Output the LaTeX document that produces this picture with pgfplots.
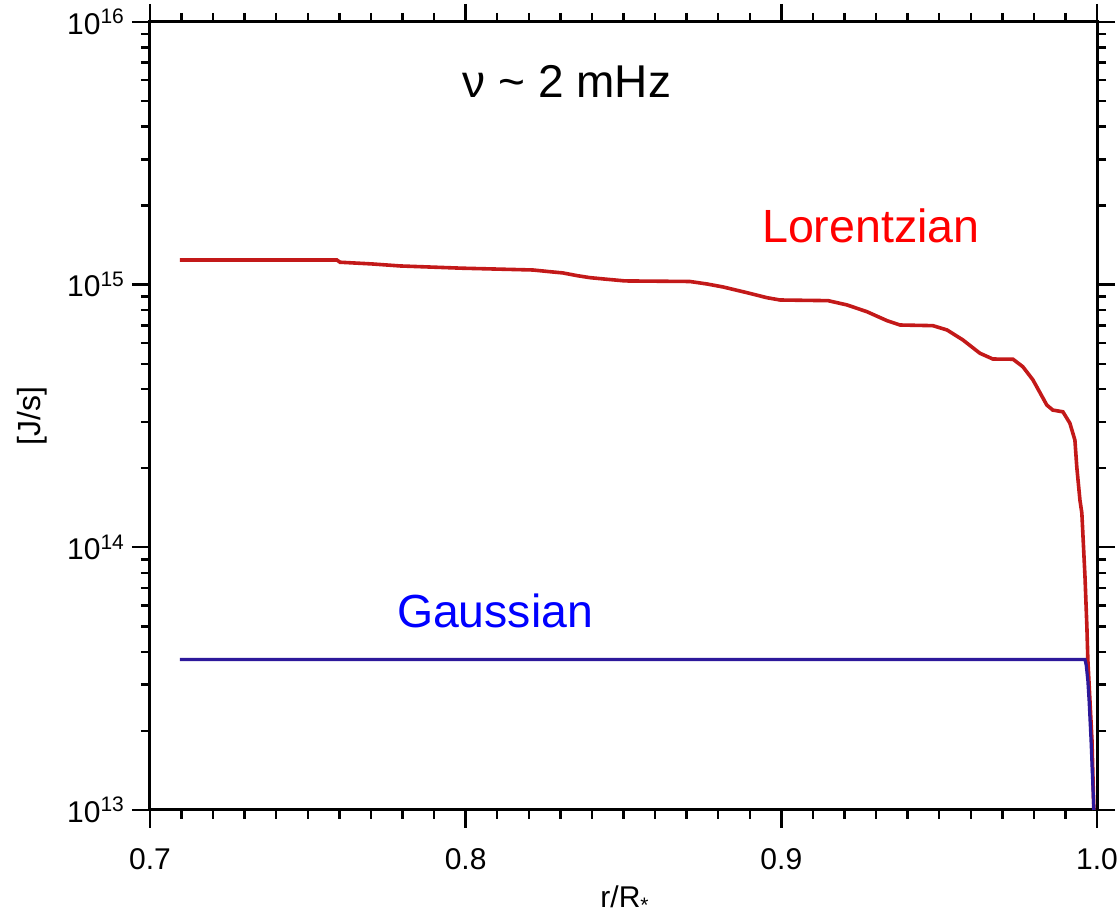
\documentclass[border=0pt]{standalone}
\usepackage{fontspec}
\setmainfont{Liberation Sans}
\usepackage{pgfplots}
\pgfplotsset{compat=1.18}
\definecolor{lorline}{RGB}{195,25,25}
\definecolor{gauline}{RGB}{45,25,155}
\definecolor{lortext}{RGB}{255,0,0}
\definecolor{gautext}{RGB}{0,0,255}
\begin{document}
\begin{tikzpicture}
\path[use as bounding box] (-75pt,-54pt) rectangle (484.5pt,405pt);
\begin{axis}[
  scale only axis,
  width=473.5pt, height=394pt,
  xmin=0.7, xmax=1.0,
  ymode=log, ymin=1e13, ymax=1e16,
  axis line style={line width=1.5pt},
  every tick/.style={black, line width=1.2pt},
  tick align=outside,
  major tick length=9pt,
  minor tick length=4.5pt,
  xtick={0.7,0.8,0.9,1.0},
  xticklabels={0.7,0.8,0.9,1.0},
  minor x tick num=9,
  ytick={1e13,1e14,1e15,1e16},
  yticklabels={10\textsuperscript{13},10\textsuperscript{14},10\textsuperscript{15},10\textsuperscript{16}},
  tick label style={font=\fontsize{15}{18}\selectfont},
  xticklabel style={yshift=-7pt},
  every axis y label/.style={at={(axis description cs:-0.1246,0.5)}, anchor=center, rotate=90},
  every axis x label/.style={at={(axis description cs:0.5016,-0.1129)}, anchor=center},
  ylabel={\fontsize{16}{18}\selectfont [J/s]},
  xlabel={\fontsize{15}{18}\selectfont r/R\textsubscript{*}},
  clip=false,
]
\addplot[color=lorline, line width=1.8pt] coordinates {
(0.7095,1.241e15) (0.7592,1.241e15) (0.7602,1.217e15) (0.7703,1.199e15)
(0.7792,1.178e15) (0.7988,1.155e15) (0.8213,1.137e15) (0.8267,1.120e15)
(0.8308,1.108e15) (0.8353,1.082e15) (0.8394,1.063e15) (0.8448,1.048e15)
(0.8505,1.033e15) (0.8710,1.028e15) (0.8764,1.006e15) (0.8815,9.80e14)
(0.8891,9.32e14) (0.8954,8.92e14) (0.8996,8.74e14) (0.9148,8.69e14)
(0.9208,8.37e14) (0.9271,7.89e14) (0.9335,7.29e14) (0.9376,7.02e14)
(0.9480,6.98e14) (0.9525,6.72e14) (0.9575,6.16e14) (0.9629,5.48e14)
(0.9670,5.21e14) (0.9734,5.20e14) (0.9765,4.87e14) (0.9797,4.34e14)
(0.9841,3.48e14) (0.9860,3.33e14) (0.9892,3.28e14) (0.9914,2.97e14)
(0.9930,2.56e14) (0.9936,2.02e14) (0.9946,1.51e14) (0.9952,1.35e14)
(0.9962,7.71e13) (0.9968,4.97e13) (0.9971,3.73e13) (0.9984,1.85e13)
(0.9990,1.0e13)
};
\addplot[color=gauline, line width=1.6pt] coordinates {
(0.7095,3.74e13) (0.9962,3.74e13) (0.9966,3.55e13) (0.9971,3.10e13)
(0.9975,2.60e13) (0.9981,1.85e13) (0.9990,1.0e13)
};
\node[anchor=base, font=\fontsize{23}{26}\selectfont] at (axis cs:0.8321,5.18e15) {ν \textasciitilde{} 2 mHz};
\node[anchor=base, text=lortext, font=\fontsize{23.3}{26}\selectfont] at (axis cs:0.9284,1.453e15) {Lorentzian};
\node[anchor=base, text=gautext, font=\fontsize{23.2}{26}\selectfont] at (axis cs:0.8093,4.93e13) {Gaussian};
\end{axis}
\end{tikzpicture}
\end{document}
